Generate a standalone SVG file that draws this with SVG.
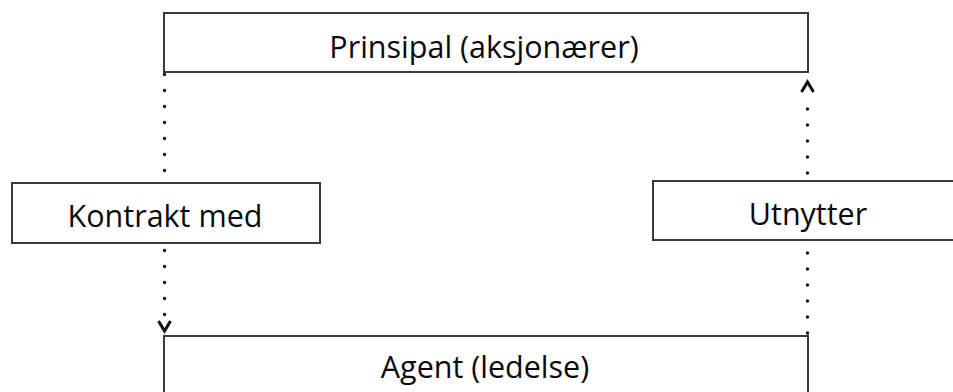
<svg xmlns="http://www.w3.org/2000/svg" width="953" height="392" viewBox="0 0 953 392">
  <defs>
    <style>
      .box { fill: #ffffff; stroke: #3a3a3a; stroke-width: 2; }
      .label { font-family: "Open Sans", "Liberation Sans", sans-serif; font-size: 30.5px; font-weight: 500; fill: #0a0a0a; text-anchor: middle; }
      .dots { fill: none; stroke: #1a1a1a; stroke-width: 3.5; stroke-dasharray: 0 16; stroke-linecap: round; }
      .head { fill: none; stroke: #111111; stroke-width: 3; stroke-linejoin: miter; }
    </style>
  </defs>

  <!-- dotted connectors, drawn first so the label boxes sit on top -->
  <g id="connectors">
    <path class="dots" d="M164.5,74.5 L164.5,322"/>
    <path class="head" d="M158.5,321 L164.5,331 L170.5,321"/>
    <path class="dots" d="M807.5,333 L807.5,93"/>
    <path class="head" d="M801.5,92 L807.5,82 L813.5,92"/>
  </g>

  <g id="principal">
    <rect class="box" x="164" y="13" width="644" height="59"/>
    <text class="label" x="484" y="58">Prinsipal (aksjonærer)</text>
  </g>

  <g id="contract">
    <rect class="box" x="12" y="183" width="308" height="60"/>
    <text class="label" x="165" y="227">Kontrakt med</text>
  </g>

  <g id="exploit">
    <rect class="box" x="653" y="181" width="310" height="59"/>
    <text class="label" x="808" y="225">Utnytter</text>
  </g>

  <g id="agent">
    <rect class="box" x="164" y="336" width="644" height="70"/>
    <text class="label" x="485" y="378">Agent (ledelse)</text>
  </g>
</svg>
